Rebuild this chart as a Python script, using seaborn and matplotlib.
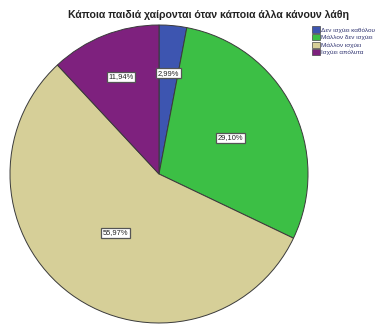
import numpy as np
import matplotlib
matplotlib.use("Agg")
import matplotlib.pyplot as plt
import seaborn as sns

# Responses to the statement and their shares (%)
categories = ["Δεν ισχύει καθόλου", "Μάλλον δεν ισχύει", "Μάλλον ισχύει", "Ισχύει απόλυτα"]
shares = [2.99, 29.10, 55.97, 11.94]
title = "Κάποια παιδιά χαίρονται όταν κάποια άλλα κάνουν λάθη"

sns.set_theme(style="white")
plt.rcParams["font.family"] = ["Liberation Sans", "DejaVu Sans"]

palette = sns.color_palette(["#3d55b0", "#3cbf45", "#d6cf98", "#7e217e"])
# radial placement of each percentage box (fraction of radius)
label_radius = [0.68, 0.54, 0.49, 0.70]

fig = plt.figure(figsize=(3.82, 3.24), dpi=100)
fig.patch.set_facecolor("white")

W, H = 382, 324
ax = fig.add_axes([10 / W, 1 / H, 298 / W, 298 / H])
wedges, _ = ax.pie(
    shares,
    colors=palette,
    startangle=90,
    counterclock=False,
    wedgeprops=dict(edgecolor="#3a3a3a", linewidth=0.7),
    radius=1.0,
)
ax.set_xlim(-1.0, 1.0)
ax.set_ylim(-1.0, 1.0)
ax.set_aspect("equal")
ax.axis("off")

# percentage boxes at each slice's mid-angle
cum = np.cumsum([0] + shares[:-1])
for start, val, r in zip(cum, shares, label_radius):
    mid = np.deg2rad(90 - (start + val / 2) * 3.6)
    ax.text(r * np.cos(mid), r * np.sin(mid),
            f"{val:.2f}%".replace(".", ","),
            ha="center", va="center", fontsize=5.4, color="#222222",
            bbox=dict(boxstyle="square,pad=0.22", facecolor="white",
                      edgecolor="#555555", linewidth=0.9))

fig.text(208 / W, 1 - 15 / H, title, ha="center", va="center",
         fontsize=7.6, fontweight="bold", color="#222222")

handles = [plt.Rectangle((0, 0), 1, 1, facecolor=c, edgecolor="#444444", linewidth=0.5)
           for c in palette]
fig.legend(handles, categories, loc="upper left",
           bbox_to_anchor=(308 / W, 1 - 22 / H), frameon=False,
           fontsize=4.6, handlelength=1.1, handleheight=1.1,
           handletextpad=0.3, labelspacing=0.2, borderpad=0.2,
           labelcolor="#2f3370")

fig.savefig("out.png", dpi=100, facecolor="white")
